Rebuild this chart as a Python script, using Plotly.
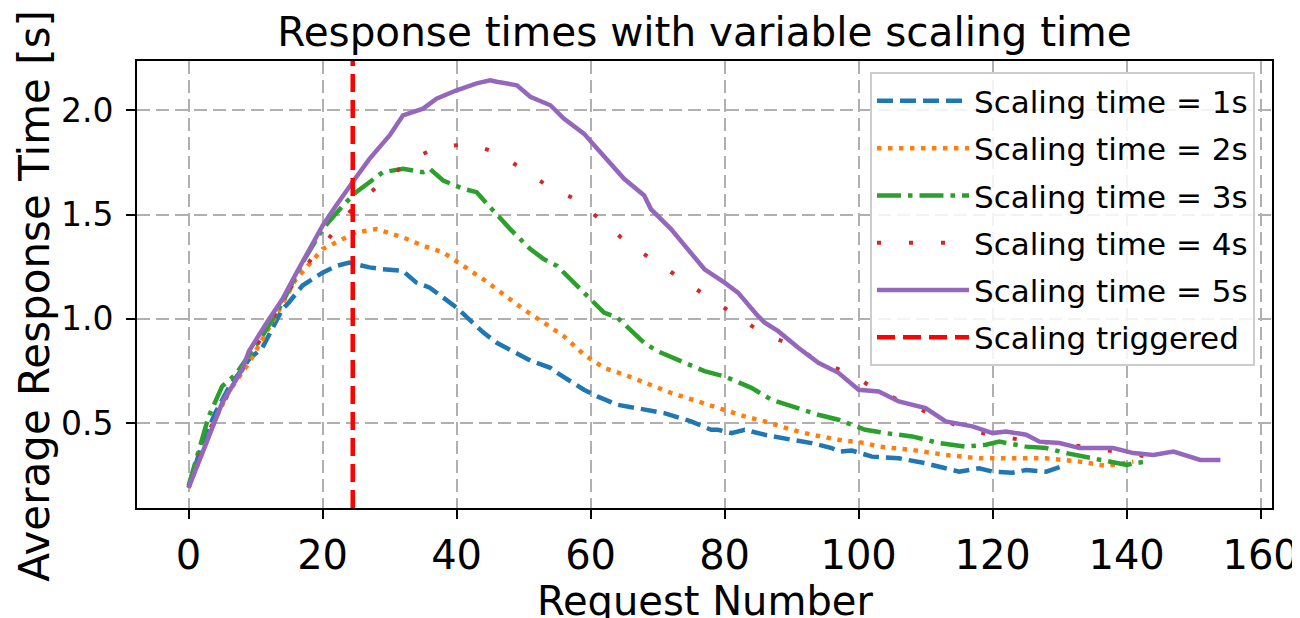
import plotly.graph_objects as go

# ---- data ----
x_1s = [0, 2, 4, 6, 8, 9, 11, 13, 14, 15, 17, 20, 22, 24, 27, 29, 32, 34, 36, 40, 44, 46, 51, 54, 55, 59, 61, 64, 68,
        71, 75, 78, 79, 81, 83, 86, 90, 93, 96, 97, 99, 102, 106, 110, 113, 115, 118, 120, 123, 125, 128, 131]
y_1s = [0.19, 0.40, 0.55, 0.67, 0.76, 0.805, 0.861, 0.98, 1.046, 1.08, 1.16, 1.222, 1.254, 1.27, 1.247, 1.238, 1.23,
        1.174, 1.15, 1.054, 0.934, 0.885, 0.80, 0.765, 0.741, 0.66, 0.628, 0.588, 0.564, 0.548, 0.508, 0.468, 0.468,
        0.452, 0.468, 0.444, 0.42, 0.404, 0.38, 0.363, 0.368, 0.339, 0.331, 0.307, 0.283, 0.267, 0.283, 0.267, 0.262,
        0.275, 0.267, 0.299]

x_2s = [0, 2, 4, 6, 9, 13, 16, 20, 23, 25, 28, 32, 35, 38, 41, 44, 47, 50, 53, 56, 59, 62, 65, 69, 72, 76, 80, 83, 86,
        90, 93, 97, 101, 103, 108, 113, 118, 123, 128, 133, 137, 141]
y_2s = [0.19, 0.35, 0.52, 0.65, 0.789, 1.013, 1.19, 1.335, 1.383, 1.415, 1.431, 1.391, 1.351, 1.319, 1.254, 1.19,
        1.118, 1.046, 0.982, 0.917, 0.829, 0.765, 0.733, 0.684, 0.645, 0.604, 0.564, 0.532, 0.508, 0.468, 0.444, 0.42,
        0.404, 0.387, 0.371, 0.347, 0.331, 0.331, 0.331, 0.315, 0.294, 0.315]

x_3s = [0, 3, 5, 7, 11, 14, 17, 20, 23, 25, 27, 29, 32, 35, 36, 38, 41, 43, 45, 48, 51, 53, 55, 58, 59, 62, 64, 68,
        70, 74, 77, 80, 84, 87, 91, 94, 97, 101, 104, 108, 112, 116, 119, 121, 125, 128, 131, 135, 140, 141, 143]
y_3s = [0.20, 0.532, 0.676, 0.733, 0.917, 1.078, 1.27, 1.431, 1.543, 1.608, 1.656, 1.704, 1.72, 1.704, 1.72, 1.664,
        1.624, 1.608, 1.536, 1.431, 1.335, 1.287, 1.254, 1.158, 1.126, 1.03, 1.006, 0.885, 0.845, 0.789, 0.749, 0.724,
        0.669, 0.612, 0.572, 0.54, 0.516, 0.468, 0.452, 0.436, 0.404, 0.387, 0.396, 0.411, 0.387, 0.38, 0.356, 0.331,
        0.299, 0.307, 0.315]

x_4s = [0, 3, 6, 11, 16, 19, 22, 25, 29, 33, 37, 42, 46, 50, 54, 58, 62, 66, 70, 74, 78, 82, 86, 90, 94, 99, 103, 107,
        112, 116, 121, 126, 130, 135, 140, 143]
y_4s = [0.19, 0.46, 0.645, 0.917, 1.19, 1.315, 1.428, 1.552, 1.656, 1.76, 1.823, 1.84, 1.797, 1.716, 1.629, 1.571,
        1.46, 1.351, 1.269, 1.179, 1.094, 1.01, 0.924, 0.877, 0.797, 0.733, 0.652, 0.598, 0.526, 0.468, 0.436, 0.411,
        0.404, 0.38, 0.356, 0.34]

x_5s = [0, 2, 4, 5, 8, 9, 12, 14, 16, 18, 20, 22, 24, 25, 27, 30, 32, 35, 37, 40, 43, 45, 46, 49, 51, 54, 56, 59, 61,
        65, 68, 69, 72, 74, 77, 80, 82, 85, 86, 88, 91, 94, 97, 100, 103, 106, 110, 113, 117, 120, 122, 125, 127, 130,
        133, 138, 141, 144, 147, 151, 154]
y_5s = [0.19, 0.355, 0.516, 0.596, 0.757, 0.845, 0.998, 1.094, 1.215, 1.33, 1.447, 1.543, 1.64, 1.68, 1.768, 1.88,
        1.977, 2.009, 2.057, 2.097, 2.13, 2.145, 2.138, 2.121, 2.066, 2.025, 1.961, 1.889, 1.817, 1.672, 1.592, 1.527,
        1.431, 1.351, 1.238, 1.174, 1.126, 1.013, 0.982, 0.941, 0.861, 0.789, 0.741, 0.66, 0.652, 0.604, 0.572, 0.508,
        0.484, 0.452, 0.46, 0.444, 0.411, 0.404, 0.38, 0.38, 0.356, 0.347, 0.363, 0.323, 0.323]

trigger_x = 24.5

series_names = ["Scaling time = 1s", "Scaling time = 2s", "Scaling time = 3s",
                "Scaling time = 4s", "Scaling time = 5s"]
trigger_name = "Scaling triggered"

title_text = "Response times with variable scaling time"
x_title = "Request Number"
y_title = "Average Response Time [s]"

x_ticks = [0, 20, 40, 60, 80, 100, 120, 140, 160]
y_ticks = [0.5, 1.0, 1.5, 2.0]
x_range = [-7.7, 161.7]
y_range = [0.0925, 2.2375]

# ---- figure ----
styles = [
    ("#1f77b4", "16px,7px", 4.5),
    ("#ff7f0e", "4.5px,6.5px", 4.5),
    ("#2ca02c", "24px,7px,4.5px,7px", 4.5),
    ("#d62728", "4px,28px", 4),
    ("#9467bd", "solid", 4.5),
]
data = [(x_1s, y_1s), (x_2s, y_2s), (x_3s, y_3s), (x_4s, y_4s), (x_5s, y_5s)]

fig = go.Figure()
for i, ((xs, ys), name, (col, dash, w)) in enumerate(zip(data, series_names, styles)):
    fig.add_trace(go.Scatter(x=xs, y=ys, mode="lines", name=name, legendgroup=f"g{i}",
                             line=dict(color=col, dash=dash, width=w)))

# legend entry for the trigger line
fig.add_trace(go.Scatter(x=[None], y=[None], mode="lines", name=trigger_name, legendgroup="g5",
                         line=dict(color="#ff0000", dash="18px,8px", width=4.5)))
fig.add_vline(x=trigger_x, line=dict(color="#ff0000", dash="18px,8px", width=4.5))

axis_common = dict(
    showline=True, linecolor="black", linewidth=2, mirror=True,
    ticks="outside", ticklen=9, tickwidth=2, tickcolor="black",
    showgrid=True, gridcolor="#b0b0b0", gridwidth=2, griddash="13px,6px",
    zeroline=False,
)

fig.update_xaxes(range=x_range, tickvals=x_ticks, tickfont=dict(size=40), ticklabelstandoff=2, **axis_common)
fig.update_yaxes(range=y_range, tickvals=y_ticks, tickformat=".1f", tickfont=dict(size=33), ticklabelstandoff=6,
                 **axis_common)

# axis titles as annotations so their positions can be matched exactly
fig.add_annotation(text=y_title, textangle=-90, font=dict(size=42),
                   xref="paper", yref="paper", x=-0.0898, y=0.475,
                   xanchor="center", yanchor="middle", showarrow=False)
fig.add_annotation(text=x_title, font=dict(size=40),
                   xref="paper", yref="paper", x=0.5, y=-0.152,
                   xanchor="center", yanchor="top", showarrow=False)

# the page body adds an 8px offset; the figure is sized so that the plot area
# lands at the reference position inside the 1300x618 window
fig.update_layout(
    width=1292, height=610,
    margin=dict(l=129, r=28, t=53, b=110, autoexpand=False),
    paper_bgcolor="white", plot_bgcolor="white",
    font=dict(family="DejaVu Sans", color="black"),
    title=dict(text=title_text, font=dict(size=40.5),
               x=0.5, xref="paper", xanchor="center", y=0.985, yref="container", yanchor="top"),
    legend=dict(x=0.985, xanchor="right", y=0.975, yanchor="top",
                bgcolor="rgba(255,255,255,0.85)", bordercolor="#cccccc", borderwidth=2,
                font=dict(size=31), tracegroupgap=4, itemwidth=92),
    showlegend=True,
)

fig.write_html("out.html")
